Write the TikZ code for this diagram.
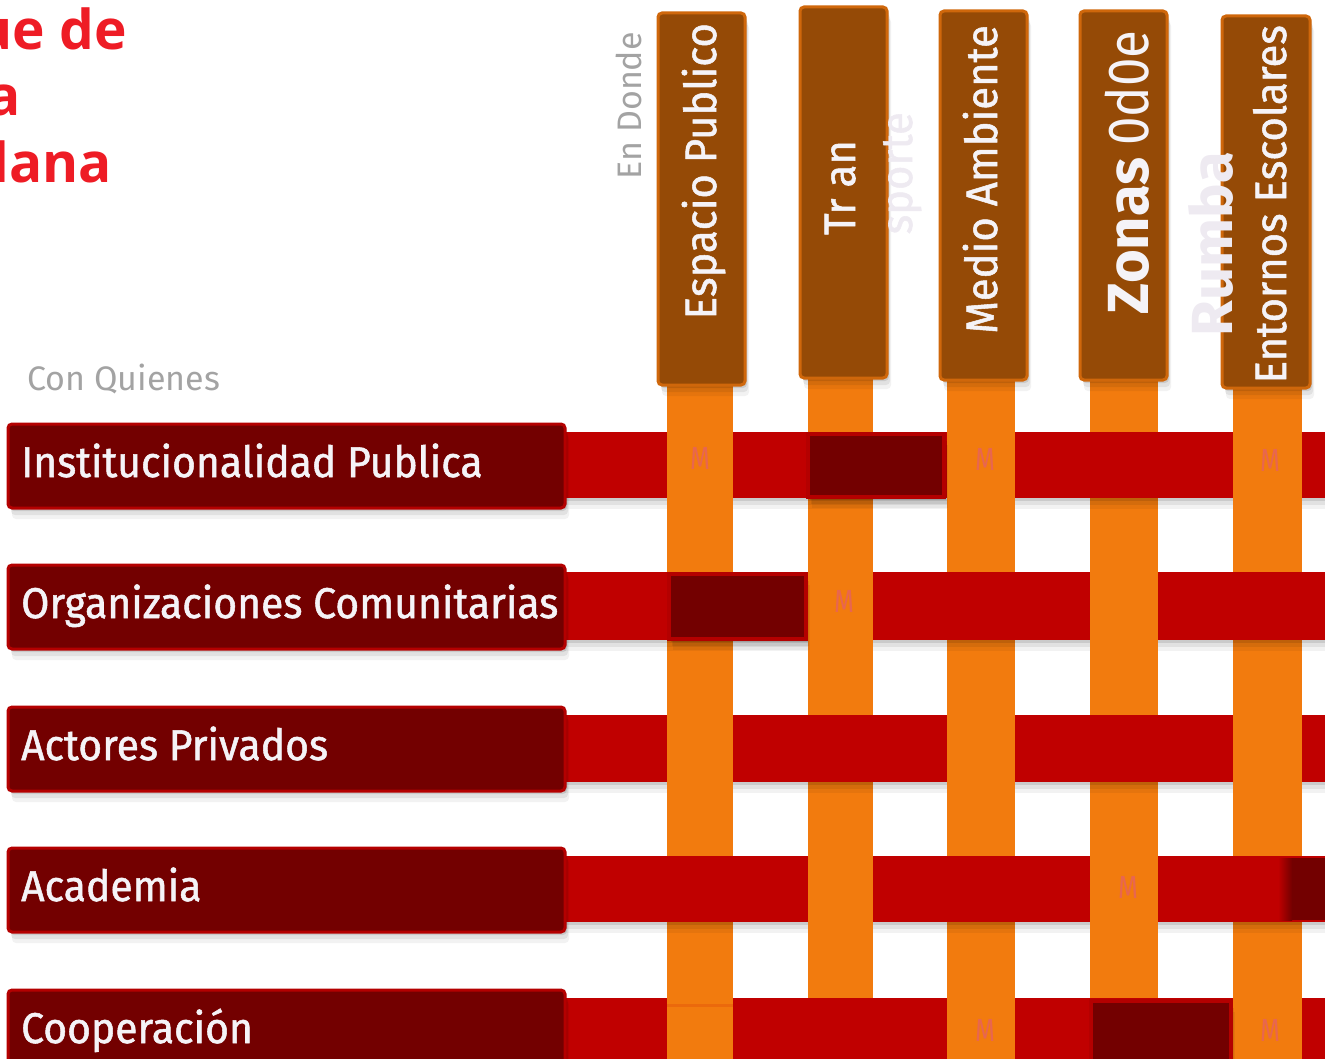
\documentclass[tikz,border=0pt]{standalone}
\usepackage{fontspec}
\setmainfont{Fira Sans}
\newfontfamily\labfont{Fira Sans}[FakeStretch=0.95,FakeBold=1.2]
\newfontfamily\thinfont{Fira Sans}[FakeStretch=0.8]
\newfontfamily\condfont{Fira Sans}[FakeStretch=0.88]
\newfontfamily\titfont{Open Sans}
\usetikzlibrary{shadows}
\definecolor{orng}{HTML}{F27B0E}
\definecolor{bred}{HTML}{C00000}
\definecolor{dred}{HTML}{730000}
\definecolor{brwn}{HTML}{954A06}
\definecolor{hdedge}{HTML}{E2710D}
\definecolor{mcol}{HTML}{E8664F}
\definecolor{wtxt}{HTML}{F5F3F7}
\definecolor{gtxt}{HTML}{A3A3A3}
\definecolor{ttl}{HTML}{EE1C25}
\definecolor{ghost}{HTML}{EEEAF1}
\begin{document}
\begin{tikzpicture}[x=1pt,y=-1pt,
  shd/.style={general shadow={fill=black,opacity=.10,shadow xshift=2pt,shadow yshift=-3pt},
              general shadow={fill=black,opacity=.07,shadow xshift=3pt,shadow yshift=-7pt},
              general shadow={fill=black,opacity=.05,shadow xshift=4pt,shadow yshift=-11pt}},
  hdrbox/.style={shd,rectangle,rounded corners=4pt,fill=brwn,draw=hdedge!75!brwn,line width=3pt,inner sep=0pt,anchor=north west},
  rowbox/.style={shd,rectangle,rounded corners=4pt,fill=dred,draw=bred!85!dred,line width=3pt,inner sep=0pt,anchor=north west},
  band/.style={fill=bred},
  dcell/.style={shd,fill=dred,draw=bred!85!dred,line width=4pt},
  hdtxt/.style={rotate=90,anchor=base east,inner sep=0pt,text=wtxt,font=\labfont\fontsize{44}{44}\selectfont},
  rowtxt/.style={anchor=base west,inner sep=0pt,text=wtxt,font=\labfont\fontsize{43}{43}\selectfont},
  mk/.style={inner sep=0pt,text=mcol,font=\thinfont\fontsize{32}{32}\selectfont},
  ghosttxt/.style={rotate=90,anchor=base east,inner sep=0pt,text=ghost},
  titletxt/.style={anchor=base east,inner sep=0pt,text=ttl,font=\titfont\bfseries\fontsize{55}{55}\selectfont}]
\useasboundingbox (0,0) rectangle (1325,1059);
\begin{scope}
\clip (0,0) rectangle (1325,1059);
% title (cut at the left edge, as in the reference)
\node[titletxt] (ti1) at (127,50) {ue de};
\node[titletxt] (ti2) at (21,116) {a};
\node[titletxt] (ti3) at (112,183) {lana};
% axis captions
\node[rotate=90,anchor=base east,inner sep=0pt,text=gtxt,font=\fontsize{34}{34}\selectfont] (endonde) at (641,32) {En Donde};
\node[anchor=base west,inner sep=0pt,text=gtxt,font=\fontsize{34}{34}\selectfont] (conq) at (27,390) {Con Quienes};
% orange column strips
\foreach \a/\b in {667/733,808/873,947/1015,1090/1158,1233/1302}
  \fill[orng] (\a,370) rectangle (\b,1059);
% red row bands
\foreach \t/\u in {432/498,572/640,715/782,856/922,998/1065}
  \fill[band,shd] (560,\t) rectangle (1325,\u);
% orange cells on top
\foreach \a/\b/\t/\u in {667/733/430/512, 947/1015/430/512, 1233/1302/430/512,
                         808/873/570/654, 1090/1158/570/654,
                         667/733/713/796, 947/1015/713/796, 1233/1302/713/796,
                         808/873/854/936, 1090/1158/854/936,
                         667/733/996/1059, 947/1015/996/1059, 1233/1302/996/1059}
  \fill[orng] (\a,\t) rectangle (\b,\u);
\fill[orng!85!bred] (667,1004) rectangle (733,1007);
% dark red highlighted cells
\draw[dcell] (808,434) rectangle (944,497);
\draw[dcell] (669,574) rectangle (806,639);
\draw[dcell] (1091,1001) rectangle (1231,1070);
\fill[dred] (1290,858) rectangle (1330,920);
\fill[left color=bred,right color=dred] (1278,858) rectangle (1292,920);
% marks
\node[mk] (m11) at (700,458) {M};
\node[mk] (m13) at (985,459) {M};
\node[mk] (m15) at (1270,460) {M};
\node[mk] (m22) at (844,601) {M};
\node[mk] (m44) at (1128,887) {M};
\node[mk] (m53) at (985,1030) {M};
\node[mk] (m55) at (1270,1030) {M};
% column headers
\node[hdrbox,minimum width=87pt,minimum height=372pt] (h1) at (656.5,11.5) {};
\node[hdrbox,minimum width=87pt,minimum height=371pt] (h2) at (798.5,5.5) {};
\node[hdrbox,minimum width=87pt,minimum height=369pt] (h3) at (938.5,9.5) {};
\node[hdrbox,minimum width=87pt,minimum height=369pt] (h4) at (1078.5,9.5) {};
\node[hdrbox,minimum width=88pt,minimum height=372pt] (h5) at (1220.5,14.5) {};
\node[hdtxt] (ht1) at (716,23) {Espacio Publico};
\node[hdtxt] (ht2) at (855,140) {Tr an};
\node[ghosttxt,font=\labfont\fontsize{44}{44}\selectfont] (ht2b) at (912,112) {sporte};
\node[hdtxt] (ht3) at (997,25) {Medio Ambiente};
\node[hdtxt,font=\fontsize{58}{58}\selectfont] (ht4) at (1148,30) {\textbf{Zonas}\hspace{12pt}{\condfont 0d0e}};
\node[ghosttxt,font=\bfseries\fontsize{58}{58}\selectfont] (ht4b) at (1232,152) {Rumba};
\node[hdtxt] (ht5) at (1286,25) {Entornos Escolares};
% row headers
\node[rowbox,minimum width=557pt,minimum height=84pt] (r1) at (6.5,422.5) {};
\node[rowbox,minimum width=557pt,minimum height=84pt] (r2) at (6.5,563.5) {};
\node[rowbox,minimum width=557pt,minimum height=84pt] (r3) at (6.5,705.5) {};
\node[rowbox,minimum width=557pt,minimum height=84pt] (r4) at (6.5,846.5) {};
\node[rowbox,minimum width=557pt,minimum height=84pt] (r5) at (6.5,988.5) {};
\node[rowtxt] (rt1) at (21,477) {Institucionalidad Publica};
\node[rowtxt] (rt2) at (21,618) {Organizaciones Comunitarias};
\node[rowtxt] (rt3) at (21,760) {Actores Privados};
\node[rowtxt] (rt4) at (21,901) {Academia};
\node[rowtxt] (rt5) at (21,1043) {Cooperación};
\end{scope}
\end{tikzpicture}
\end{document}
